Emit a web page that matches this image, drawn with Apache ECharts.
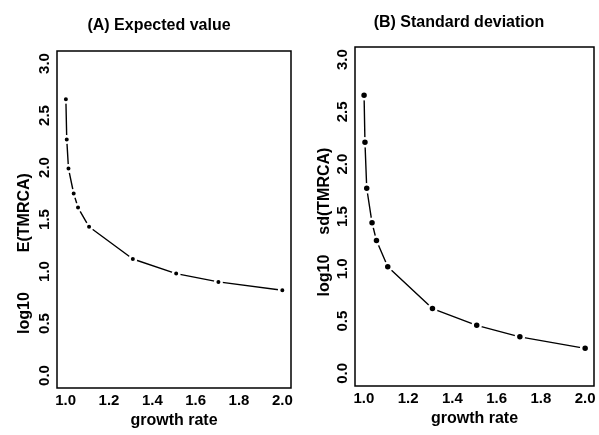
<!DOCTYPE html>
<html>
<head>
<meta charset="utf-8">
<script src="https://cdn.jsdelivr.net/npm/echarts@6/dist/echarts.min.js"></script>
<style>
  html, body { margin: 0; padding: 0; background: #fff; }
  #chart { width: 599px; height: 435px; }
</style>
</head>
<body>
<div id="chart"></div>
<script>
// Growth rates at which the TMRCA was evaluated
var growthRate = [1.001, 1.005, 1.013, 1.037, 1.057, 1.108, 1.31, 1.51, 1.705, 2.0];
// log10 of the expected TMRCA
var logMean = [2.655, 2.27, 1.99, 1.75, 1.615, 1.43, 1.12, 0.98, 0.90, 0.82];
// log10 of the standard deviation of the TMRCA
var logSd = [2.66, 2.21, 1.77, 1.44, 1.27, 1.02, 0.62, 0.46, 0.35, 0.24];

var xTicks = [1.0, 1.2, 1.4, 1.6, 1.8, 2.0];
var yTicks = [0.0, 0.5, 1.0, 1.5, 2.0, 2.5, 3.0];

var FONT = '"Liberation Sans", Arial, sans-serif';

function pairs(xs, ys) {
  return xs.map(function (x, i) { return [x, ys[i]]; });
}

function xAxisFor(idx) {
  return {
    type: 'value', gridIndex: idx, min: 0.96, max: 2.04,
    splitLine: { show: false },
    axisLine: { show: false },
    axisTick: { show: false },
    axisLabel: {
      customValues: xTicks, margin: 5,
      color: '#000', fontFamily: FONT, fontWeight: 'bold', fontSize: 15,
      formatter: function (v) { return v.toFixed(1); }
    },
    name: 'growth rate', nameLocation: 'middle', nameGap: 20,
    nameTextStyle: { color: '#000', fontFamily: FONT, fontWeight: 'bold', fontSize: 16 }
  };
}

function yAxisFor(idx, label, gap, pad, nameGap) {
  return {
    type: 'value', gridIndex: idx, min: -0.12, max: 3.12,
    splitLine: { show: false },
    axisLine: { show: false },
    axisTick: { show: false },
    axisLabel: {
      customValues: yTicks, rotate: 90, margin: 5,
      color: '#000', fontFamily: FONT, fontWeight: 'bold', fontSize: 15,
      formatter: function (v) { return v.toFixed(1); }
    },
    name: '{t|log10}{g| }{t|' + label + '}{p| }',
    nameLocation: 'middle', nameGap: nameGap,
    nameTextStyle: {
      color: '#000', fontFamily: FONT, fontWeight: 'bold', fontSize: 16,
      rich: {
        t: { color: '#000', fontFamily: FONT, fontWeight: 'bold', fontSize: 16 },
        g: { width: gap },
        p: { width: pad }
      }
    }
  };
}

function seriesFor(idx, ys, size) {
  return {
    type: 'line', xAxisIndex: idx, yAxisIndex: idx,
    data: pairs(growthRate, ys),
    symbol: 'circle', symbolSize: size,
    lineStyle: { color: '#000', width: 1.4 },
    itemStyle: { color: '#000', borderColor: '#fff', borderWidth: 2.5 },
    emphasis: { disabled: true },
    animation: false
  };
}

var chart = echarts.init(document.getElementById('chart'), null, { renderer: 'canvas' });
chart.setOption({
  backgroundColor: '#fff',
  animation: false,
  title: [
    { text: '(A) Expected value', left: 154, top: 13, textAlign: 'center',
      textStyle: { color: '#000', fontFamily: FONT, fontWeight: 'bold', fontSize: 16 } },
    { text: '(B) Standard deviation', left: 454, top: 10, textAlign: 'center',
      textStyle: { color: '#000', fontFamily: FONT, fontWeight: 'bold', fontSize: 16 } }
  ],
  grid: [
    { left: 57, top: 51, width: 234, height: 337, show: true,
      borderColor: '#000', borderWidth: 1.5, backgroundColor: 'transparent' },
    { left: 355, top: 47, width: 239, height: 339, show: true,
      borderColor: '#000', borderWidth: 1.5, backgroundColor: 'transparent' }
  ],
  xAxis: [xAxisFor(0), xAxisFor(1)],
  yAxis: [
    yAxisFor(0, 'E(TMRCA)', 40, 68, 24),
    yAxisFor(1, 'sd(TMRCA)', 20, 11, 22)
  ],
  series: [
    seriesFor(0, logMean, 6.5),
    seriesFor(1, logSd, 8)
  ]
});
</script>
</body>
</html>
